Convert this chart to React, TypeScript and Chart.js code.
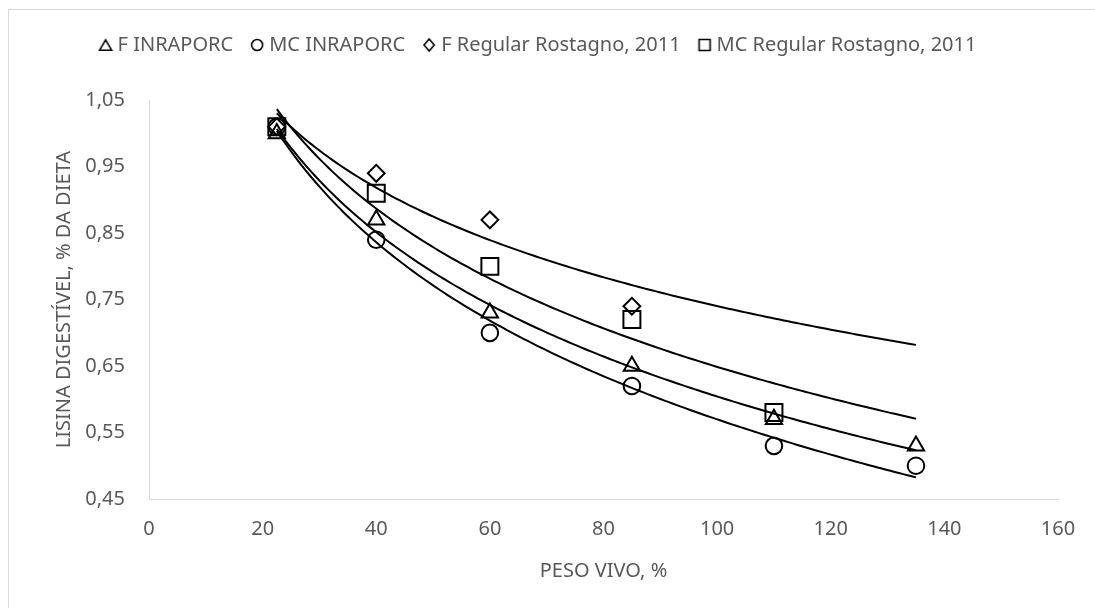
import React, { useEffect, useRef } from "react";
import { Chart, registerables } from "chart.js";

Chart.register(...registerables);

// ---- data ----
const pesoVivo = [22.5, 40, 60, 85, 110, 135];
const fInraporc = [1.0, 0.87, 0.73, 0.65, 0.57, 0.53];
const mcInraporc = [1.01, 0.84, 0.7, 0.62, 0.53, 0.5];
const fRegularPeso = [22.5, 40, 60, 85];
const fRegular = [1.01, 0.94, 0.87, 0.74];
const mcRegularPeso = [22.5, 40, 60, 85, 110];
const mcRegular = [1.01, 0.91, 0.8, 0.72, 0.58];
const seriesLabels = [
  "F INRAPORC",
  "MC INRAPORC",
  "F Regular Rostagno, 2011",
  "MC Regular Rostagno, 2011",
];
const xTicks = [0, 20, 40, 60, 80, 100, 120, 140, 160];
const yTicks = [0.45, 0.55, 0.65, 0.75, 0.85, 0.95, 1.05];
const trendEnd = 135;

const FONT = '"Noto Sans", sans-serif';
const GREY = "#595959";
const AXIS = "#d9d9d9";

function toPoints(xs: number[], ys: number[]) {
  return xs.map((x, i) => ({ x, y: ys[i] }));
}

// logarithmic least-squares trendline (y = a + b ln x), like Excel's
function logTrend(xs: number[], ys: number[], xEnd: number) {
  const n = xs.length;
  const lx = xs.map((v) => Math.log(v));
  const mx = lx.reduce((s, v) => s + v, 0) / n;
  const my = ys.reduce((s, v) => s + v, 0) / n;
  let sxy = 0;
  let sxx = 0;
  for (let i = 0; i < n; i++) {
    sxy += (lx[i] - mx) * (ys[i] - my);
    sxx += (lx[i] - mx) * (lx[i] - mx);
  }
  const b = sxy / sxx;
  const a = my - b * mx;
  const pts: { x: number; y: number }[] = [];
  const x0 = xs[0];
  const steps = 150;
  for (let i = 0; i <= steps; i++) {
    const x = x0 + ((xEnd - x0) * i) / steps;
    pts.push({ x, y: a + b * Math.log(x) });
  }
  return pts;
}

// small legend marker glyph drawn on an off-screen canvas (used as a pointStyle)
function glyph(kind: string, size: number, lw: number) {
  const dim = 16;
  const c = document.createElement("canvas");
  c.width = dim;
  c.height = dim;
  const g = c.getContext("2d")!;
  const cx = dim / 2;
  const cy = dim / 2;
  const h = size / 2;
  g.strokeStyle = "#000000";
  g.lineWidth = lw;
  g.lineJoin = "miter";
  g.beginPath();
  if (kind === "triangle") {
    const th = size * 0.866;
    g.moveTo(cx, cy - th / 2);
    g.lineTo(cx + h, cy + th / 2);
    g.lineTo(cx - h, cy + th / 2);
    g.closePath();
  } else if (kind === "circle") {
    g.arc(cx, cy, h, 0, Math.PI * 2);
  } else if (kind === "diamond") {
    g.moveTo(cx, cy - h);
    g.lineTo(cx + h * 0.85, cy);
    g.lineTo(cx, cy + h);
    g.lineTo(cx - h * 0.85, cy);
    g.closePath();
  } else {
    g.rect(cx - h, cy - h, size, size);
  }
  g.stroke();
  return c;
}

function markerSet(label: string, xs: number[], ys: number[], style: any, radius: number) {
  return {
    type: "scatter" as const,
    label,
    data: toPoints(xs, ys),
    pointStyle: style,
    pointRadius: radius,
    pointHoverRadius: radius,
    pointBorderColor: "#000000",
    pointBackgroundColor: "rgba(0,0,0,0)",
    pointBorderWidth: 2,
    borderColor: "#000000",
    backgroundColor: "rgba(0,0,0,0)",
    borderWidth: 1.5,
    showLine: false,
  };
}

function trendSet(xs: number[], ys: number[]) {
  return {
    type: "line" as const,
    label: "",
    data: logTrend(xs, ys, trendEnd),
    borderColor: "#000000",
    borderWidth: 2,
    pointRadius: 0,
    pointHoverRadius: 0,
    fill: false,
    tension: 0,
    showLine: true,
  };
}

export default function App() {
  const ref = useRef<HTMLCanvasElement>(null);

  useEffect(() => {
    const canvas = ref.current;
    if (!canvas) return;
    const legendGlyphs = [
      glyph("triangle", 12, 1.6),
      glyph("circle", 11, 1.6),
      glyph("diamond", 12, 1.6),
      glyph("square", 11, 1.6),
    ];
    const chart = new Chart(canvas, {
      type: "scatter",
      data: {
        datasets: [
          markerSet(seriesLabels[0], pesoVivo, fInraporc, "triangle", 9.4),
          markerSet(seriesLabels[1], pesoVivo, mcInraporc, "circle", 8.3),
          markerSet(seriesLabels[2], fRegularPeso, fRegular, "rectRot", 8.4),
          markerSet(seriesLabels[3], mcRegularPeso, mcRegular, "rect", 12),
          trendSet(pesoVivo, fInraporc),
          trendSet(pesoVivo, mcInraporc),
          trendSet(fRegularPeso, fRegular),
          trendSet(mcRegularPeso, mcRegular),
        ] as any,
      },
      options: {
        animation: false,
        responsive: false,
        devicePixelRatio: 1,
        events: [],
        layout: { padding: { left: 22, right: 37, top: 13, bottom: 0 } },
        plugins: {
          legend: {
            display: true,
            position: "top",
            align: "center",
            labels: {
              usePointStyle: true,
              boxWidth: 4,
              boxHeight: 9,
              padding: 22,
              color: GREY,
              font: { family: FONT, size: 20 },
              generateLabels: (ch: any) =>
                seriesLabels.map((text, i) => ({
                  text,
                  datasetIndex: i,
                  pointStyle: legendGlyphs[i],
                  fillStyle: "rgba(0,0,0,0)",
                  strokeStyle: "#000000",
                  lineWidth: 1.6,
                  fontColor: GREY,
                  hidden: !ch.isDatasetVisible(i),
                })),
            },
          },
          subtitle: {
            display: true,
            text: "",
            weight: 500,
            padding: { top: 0, bottom: 34 },
            font: { size: 1 },
          } as any,
          tooltip: { enabled: false },
        },
        scales: {
          x: {
            type: "linear",
            min: 0,
            max: 160,
            afterBuildTicks: (s: any) => {
              s.ticks = xTicks.map((v) => ({ value: v }));
            },
            afterFit: (s: any) => {
              s.height = 109;
            },
            grid: { display: false, drawTicks: false },
            border: { display: true, color: AXIS, width: 1 },
            ticks: {
              padding: 18,
              color: GREY,
              font: { family: FONT, size: 20 },
              maxRotation: 0,
              callback: (v: any) => String(v),
            },
            title: {
              display: true,
              text: "PESO VIVO, %",
              color: GREY,
              font: { family: FONT, size: 20 },
              padding: { top: 0, bottom: 25 },
            },
          },
          y: {
            type: "linear",
            min: 0.45,
            max: 1.05,
            afterBuildTicks: (s: any) => {
              s.ticks = yTicks.map((v) => ({ value: v }));
            },
            afterFit: (s: any) => {
              s.width = 127;
            },
            grid: { display: false, drawTicks: false },
            border: { display: true, color: AXIS, width: 1 },
            ticks: {
              padding: 24,
              color: GREY,
              font: { family: FONT, size: 20 },
              callback: (v: any) => Number(v).toFixed(2).replace(".", ","),
            },
            title: {
              display: true,
              text: "LISINA DIGESTÍVEL, % DA DIETA",
              color: GREY,
              font: { family: FONT, size: 20 },
              padding: { top: 30, bottom: 0 },
            },
          },
        },
      } as any,
    });
    return () => chart.destroy();
  }, []);

  return (
    <div
      style={{
        position: "fixed",
        left: 0,
        top: 0,
        width: 1095,
        height: 608,
        overflow: "hidden",
        background: "#ffffff",
      }}
    >
      <div
        style={{
          position: "absolute",
          left: 8,
          top: 9,
          width: 1400,
          height: 900,
          border: "1px solid #d9d9d9",
        }}
      />
      <canvas
        ref={ref}
        width={1095}
        height={608}
        style={{ position: "absolute", left: 0, top: 0, display: "block" }}
      />
    </div>
  );
}
